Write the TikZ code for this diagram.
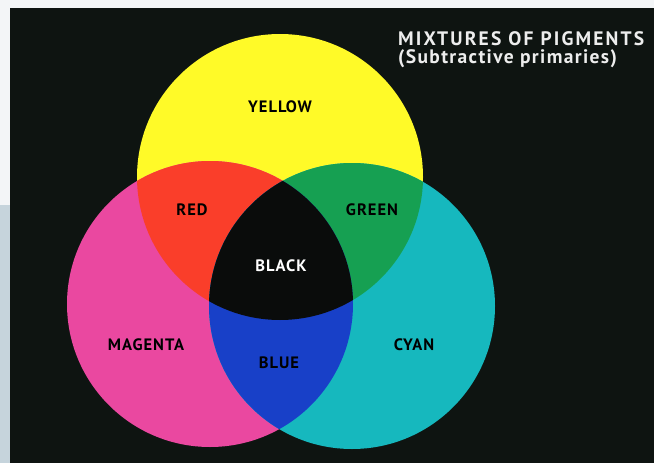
\documentclass[tikz,border=0pt]{standalone}
\usepackage{fontspec}
\setmainfont{PT Sans}
\begin{document}
\begin{tikzpicture}[x=1pt,y=-1pt,
  lbl/.style={font=\bfseries\fontsize{16.5}{16.5}\selectfont\addfontfeature{LetterSpace=6}, text=black, inner sep=0pt},
  ttl/.style={font=\bfseries\fontsize{19.5}{19.5}\selectfont\addfontfeature{LetterSpace=11}, text=white!93!black, inner sep=0pt, anchor=west},
  subttl/.style={ttl, font=\bfseries\fontsize{19.5}{19.5}\selectfont\addfontfeature{LetterSpace=7}}]
\definecolor{bgblack}{RGB}{14,20,17}
\definecolor{pageW}{RGB}{243,245,247}
\definecolor{bandB}{RGB}{198,212,220}
\definecolor{cYellow}{RGB}{255,250,40}
\definecolor{cMagenta}{RGB}{234,72,160}
\definecolor{cCyan}{RGB}{22,184,190}
\definecolor{cRed}{RGB}{250,62,42}
\definecolor{cGreen}{RGB}{22,160,82}
\definecolor{cBlue}{RGB}{24,64,200}
\definecolor{cBlack}{RGB}{10,12,11}
\useasboundingbox (0,0) rectangle (654,463);
\fill[pageW] (0,0) rectangle (654,463);
\fill[bandB] (0,205) rectangle (10,463);
\fill[bgblack] (10,8) rectangle (654,463);
\coordinate (Y) at (280,177);
\coordinate (M) at (210,304);
\coordinate (C) at (352,306);
\def\R{143}
\fill[cYellow] (Y) circle (\R);
\fill[cMagenta] (M) circle (\R);
\fill[cCyan] (C) circle (\R);
\begin{scope}
  \clip (Y) circle (\R);
  \fill[cRed] (M) circle (\R);
  \fill[cGreen] (C) circle (\R);
\end{scope}
\begin{scope}
  \clip (M) circle (\R);
  \fill[cBlue] (C) circle (\R);
  \clip (C) circle (\R);
  \fill[cBlack] (Y) circle (\R);
\end{scope}
\node[lbl] (yellow) at (280,107) {YELLOW};
\node[lbl] (red) at (192,210) {RED};
\node[lbl] (green) at (372,210) {GREEN};
\node[lbl,text=white] (black) at (281,266) {BLACK};
\node[lbl] (magenta) at (146,345) {MAGENTA};
\node[lbl] (blue) at (279,363) {BLUE};
\node[lbl] (cyan) at (414,345) {CYAN};
\node[ttl] (title) at (398,38.5) {MIXTURES OF PIGMENTS};
\node[subttl] (sub) at (398,59) {(Subtractive primaries)};
\end{tikzpicture}
\end{document}
